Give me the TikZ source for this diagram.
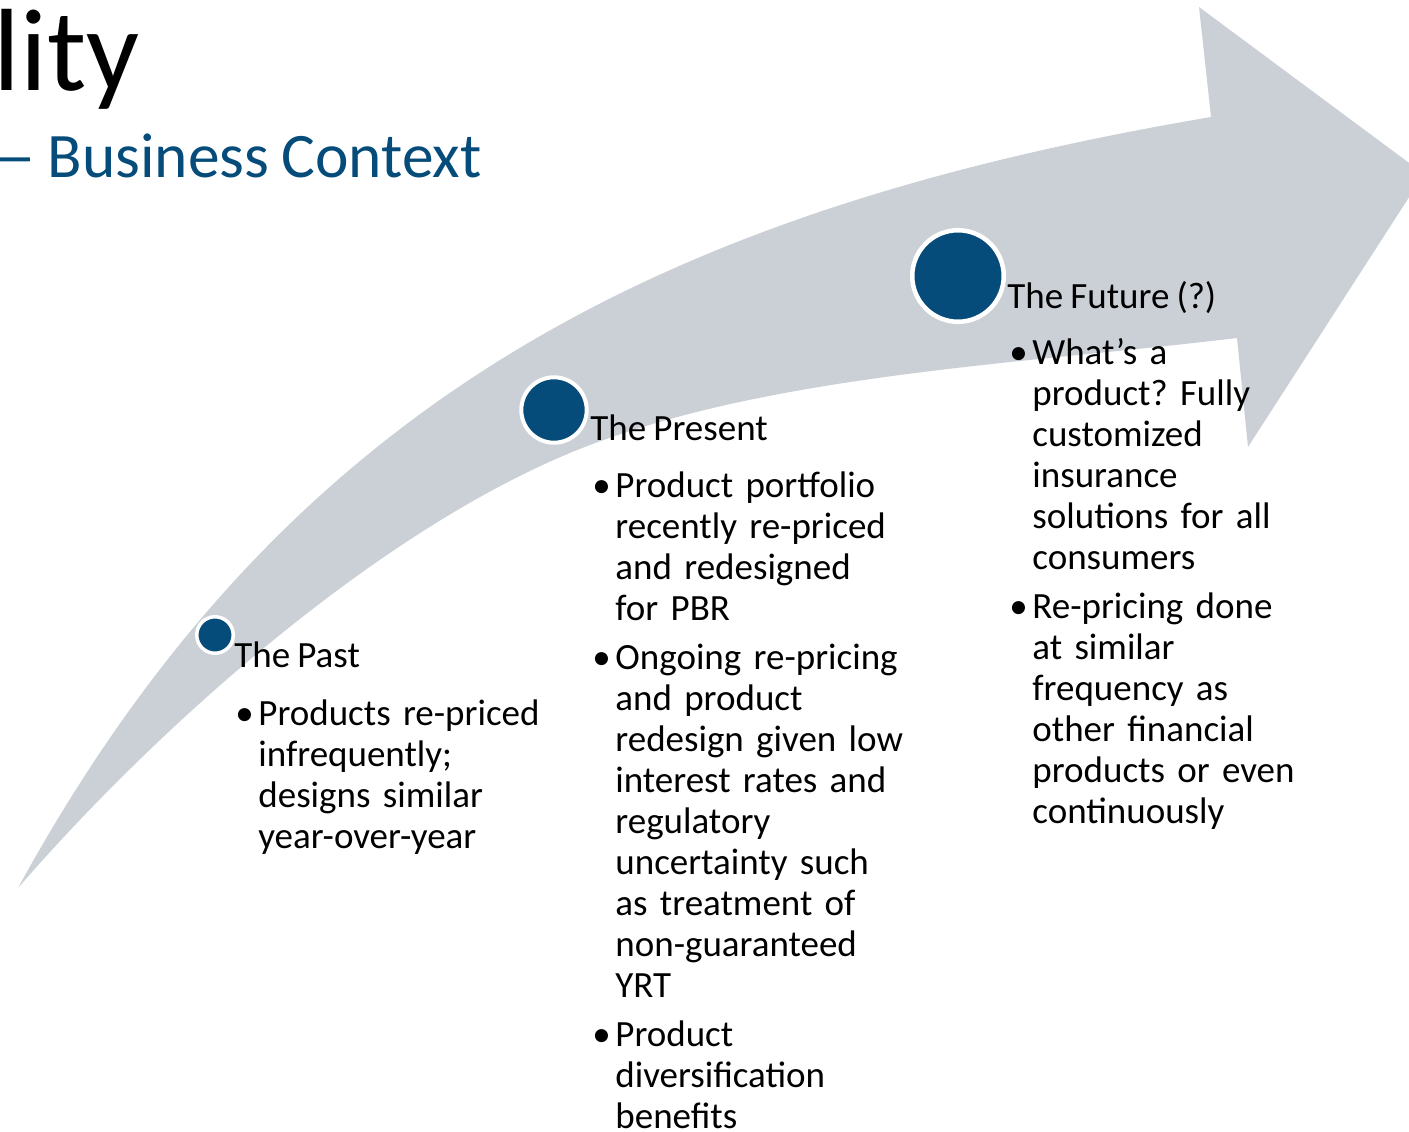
\documentclass[tikz,border=0pt]{standalone}
\usepackage{fontspec}
\setmainfont{Carlito}[WordSpace=0.85]
\frenchspacing
\definecolor{shaftgray}{HTML}{CBD0D7}
\definecolor{stageblue}{HTML}{064C7A}
% one bullet paragraph with a hanging indent
\newcommand{\bul}{\setlength{\parskip}{4pt}\noindent\hangindent=11.5pt\hangafter=1\makebox[11.5pt][l]{\textbullet}}
\tikzset{
  shaft/.style    = {fill=shaftgray, draw=none},
  stagedot/.style = {circle, fill=stageblue, draw=white, inner sep=0pt},
  stage/.style    = {anchor=base west, inner sep=0pt, font=\fontsize{18.5pt}{22pt}\selectfont},
  notes/.style    = {anchor=base west, inner sep=0pt, text width=160pt, align=left,
                     font=\fontsize{18.5pt}{20.5pt}\selectfont}
}

\begin{document}
\begin{tikzpicture}[x=0.5pt, y=-0.5pt]
  \path[use as bounding box, clip] (0,0) rectangle (1409,1131);

  % the big curved arrow
  \fill[shaft] (18,888) .. controls (285,400) and (663,210) .. (1211,117)
    -- (1199,7) -- (1424,174) -- (1248,447) -- (1237,338)
    .. controls (1021,364) and (777,374) .. (590,445)
    .. controls (387,522) and (160,724) .. (18,888)
    -- cycle;

  % slide title
  \node[anchor=base east, inner sep=0pt, font=\fontsize{58.5pt}{60pt}\selectfont] (title) at (140,90) {lity};
  \node[anchor=base east, inner sep=0pt, text=stageblue, font=\fontsize{31.7pt}{34pt}\selectfont] (subtitle) at (482,177) {— Business Context};

  % milestones on the arrow
  \node[stagedot, minimum size=18.25pt, line width=1.75pt] (past) at (215,635) {};
  \node[stagedot, minimum size=32.7pt, line width=2pt] (present) at (554,410) {};
  \node[stagedot, minimum size=45.75pt, line width=2.25pt] (future) at (958,276) {};

  \node[stage] (pasttitle) at (234,667) {The Past};
  \node[stage] (presenttitle) at (590,440) {The Present};
  \node[stage] (futuretitle) at (1007,308) {The Future (?)};

  % bullet lists under each heading
  \node[notes] (pastnotes) at ([xshift=0.5pt, yshift=-29pt]pasttitle.base west)
    {\bul Products re-priced\newline infrequently;\newline designs similar\newline year-over-year\par};
  \node[notes] (presentnotes) at ([xshift=1pt, yshift=-28.5pt]presenttitle.base west)
    {\bul Product portfolio\newline recently re-priced\newline and redesigned\newline for PBR\par
     \bul Ongoing re-pricing\newline and product\newline redesign given low\newline interest rates and\newline
          regulatory\newline uncertainty such\newline as treatment of\newline non-guaranteed\newline YRT\par
     \bul Product\newline diversification\newline benefits\par};
  \node[notes] (futurenotes) at ([xshift=1pt, yshift=-28pt]futuretitle.base west)
    {\bul What’s a\newline product? Fully\newline customized\newline insurance\newline solutions for all\newline consumers\par
     \bul Re-pricing done\newline at similar\newline frequency as\newline other financial\newline products or even\newline continuously\par};
\end{tikzpicture}
\end{document}
